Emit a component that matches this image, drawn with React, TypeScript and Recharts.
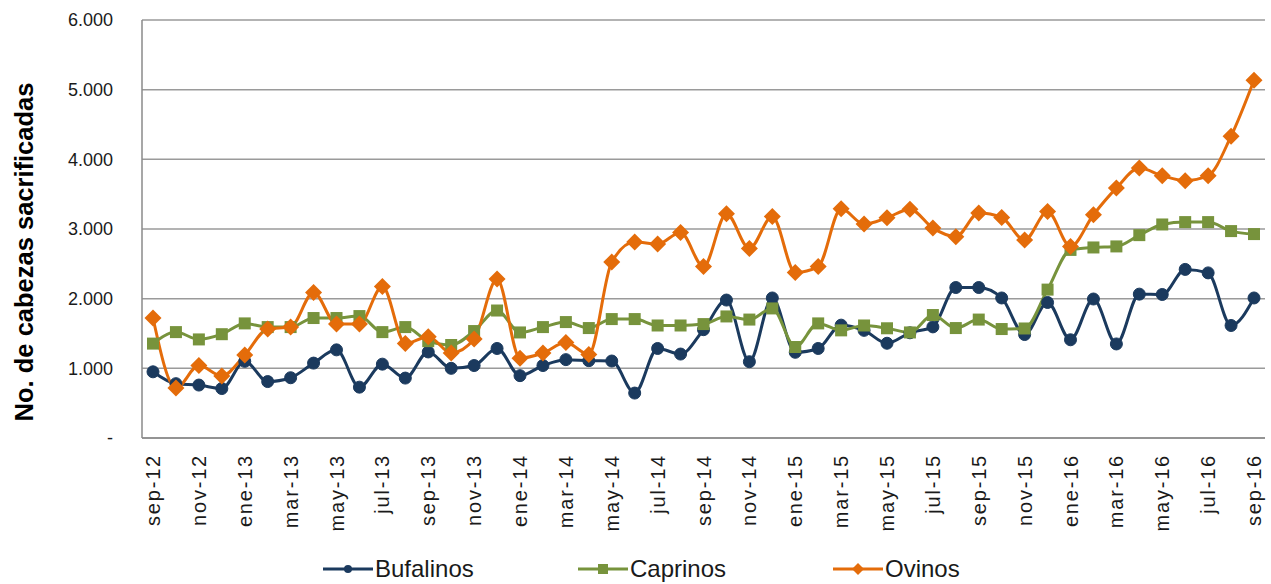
import React from "react";
import { LineChart, Line, XAxis, YAxis, CartesianGrid, Legend } from "recharts";

const months = [
  "sep-12", "oct-12", "nov-12", "dic-12", "ene-13", "feb-13", "mar-13", "abr-13", "may-13", "jun-13", "jul-13", "ago-13",
  "sep-13", "oct-13", "nov-13", "dic-13", "ene-14", "feb-14", "mar-14", "abr-14", "may-14", "jun-14", "jul-14", "ago-14",
  "sep-14", "oct-14", "nov-14", "dic-14", "ene-15", "feb-15", "mar-15", "abr-15", "may-15", "jun-15", "jul-15", "ago-15",
  "sep-15", "oct-15", "nov-15", "dic-15", "ene-16", "feb-16", "mar-16", "abr-16", "may-16", "jun-16", "jul-16", "ago-16",
  "sep-16",
];

const bufalinos = [
  950, 780, 760, 710, 1100, 810, 865, 1075, 1265, 730, 1060, 860,
  1235, 1000, 1040, 1285, 895, 1040, 1125, 1110, 1105, 645, 1285, 1205,
  1555, 1980, 1095, 2010, 1230, 1285, 1620, 1545, 1360, 1510, 1595, 2160,
  2160, 2010, 1485, 1945, 1410, 1995, 1350, 2065, 2060, 2420, 2370, 1615,
  2010,
];

const caprinos = [
  1355, 1520, 1415, 1490, 1645, 1592, 1592, 1722, 1722, 1750, 1520, 1592,
  1390, 1335, 1535, 1830, 1515, 1592, 1664, 1578, 1707, 1707, 1615, 1615,
  1635, 1745, 1700, 1860, 1306, 1645, 1545, 1615, 1575, 1515, 1765, 1578,
  1700, 1564, 1572, 2130, 2700, 2735, 2750, 2912, 3065, 3099, 3099, 2970,
  2927,
];

const ovinos = [
  1722, 717, 1040, 890, 1191, 1565, 1592, 2090, 1635, 1635, 2175, 1355,
  1455, 1220, 1420, 2281, 1145, 1220, 1370, 1200, 2525, 2812, 2783, 2950,
  2460, 3220, 2720, 3180, 2375, 2460, 3290, 3070, 3160, 3285, 3013, 2890,
  3228, 3165, 2841, 3250, 2748, 3205, 3587, 3874, 3766, 3694, 3766, 4333,
  5136,
];

const yTicks = [0, 1000, 2000, 3000, 4000, 5000, 6000];

const seriesNames = ["Bufalinos", "Caprinos", "Ovinos"];
const colors = ["#1B3A5E", "#77933C", "#E46C0A"];

const data = months.map((m, i) => ({
  month: m,
  Bufalinos: bufalinos[i],
  Caprinos: caprinos[i],
  Ovinos: ovinos[i],
}));

const fmt = (v: number) => (v === 0 ? "-" : v.toLocaleString("de-DE"));

const CircleDot = (props: any) => {
  const { cx, cy, index } = props;
  if (cx == null || cy == null) return <g key={`b${index}`} />;
  return <circle key={`b${index}`} cx={cx} cy={cy} r={6} fill={colors[0]} stroke={colors[0]} />;
};
const SquareDot = (props: any) => {
  const { cx, cy, index } = props;
  if (cx == null || cy == null) return <g key={`c${index}`} />;
  return <rect key={`c${index}`} x={cx - 6} y={cy - 6} width={12} height={12} fill={colors[1]} />;
};
const DiamondDot = (props: any) => {
  const { cx, cy, index } = props;
  if (cx == null || cy == null) return <g key={`o${index}`} />;
  const s = 8.5;
  return (
    <path
      key={`o${index}`}
      d={`M${cx},${cy - s}L${cx + s},${cy}L${cx},${cy + s}L${cx - s},${cy}Z`}
      fill={colors[2]}
    />
  );
};

const XTick = (props: any) => {
  const { x, y, payload } = props;
  return (
    <text
      x={x}
      y={y}
      dy={7}
      transform={`rotate(-90, ${x}, ${y})`}
      textAnchor="end"
      fontFamily="Liberation Sans, Arial, sans-serif"
      fontSize={20}
      letterSpacing={1.8}
      fill="#1a1a1a"
    >
      {payload.value}
    </text>
  );
};

const legendMarkers = [
  (c: string) => <circle cx={25} cy={10} r={4} fill={c} />,
  (c: string) => <rect x={20} y={5} width={10} height={10} fill={c} />,
  (c: string) => <path d="M25,4L31,10L25,16L19,10Z" fill={c} />,
];

const LegendContent = () => (
  <div style={{ display: "flex", height: 30, alignItems: "center", paddingLeft: 323, width: 1271, boxSizing: "border-box" }}>
    {seriesNames.map((n, i) => (
      <div key={n} style={{ display: "flex", alignItems: "center", width: 255 }}>
        <svg width={50} height={20} style={{ display: "block" }}>
          <line x1={0} y1={10} x2={50} y2={10} stroke={colors[i]} strokeWidth={3} />
          {legendMarkers[i](colors[i])}
        </svg>
        <span
          style={{
            fontFamily: "Liberation Sans, Arial, sans-serif",
            fontSize: 24,
            color: "#1a1a1a",
            marginLeft: 2,
            lineHeight: "30px",
          }}
        >
          {n}
        </span>
      </div>
    ))}
  </div>
);

export default function App() {
  return (
    <div style={{ position: "absolute", left: 0, top: 0, width: 1271, height: 584, background: "#fff" }}>
      <LineChart width={1271} height={584} data={data} margin={{ top: 20, right: 6, left: 0, bottom: 0 }}>
        <CartesianGrid vertical={false} stroke="#9a9a9a" strokeWidth={1.5} />
        <XAxis
          dataKey="month"
          interval={1}
          height={116}
          padding={{ left: 11, right: 11 }}
          tickLine={false}
          tickSize={0}
          tickMargin={16}
          axisLine={{ stroke: "#8a8a8a", strokeWidth: 1.5 }}
          tick={<XTick />}
        />
        <YAxis
          width={142}
          domain={[0, 6000]}
          ticks={yTicks}
          tickFormatter={fmt}
          tickLine={false}
          tickSize={0}
          tickMargin={29}
          axisLine={{ stroke: "#8a8a8a", strokeWidth: 1.5 }}
          tick={{ fontSize: 18, fill: "#1a1a1a", fontFamily: "Liberation Sans, Arial, sans-serif" }}
          label={{
            content: () => (
              <text
                x={33}
                y={252}
                transform="rotate(-90, 33, 252)"
                textAnchor="middle"
                fontFamily="Liberation Sans, Arial, sans-serif"
                fontWeight="bold"
                fontSize={25.5}
                fill="#000"
              >
                No. de cabezas sacrificadas
              </text>
            ),
          }}
        />
        <Legend verticalAlign="bottom" content={<LegendContent />} />
        <Line
          type="monotone"
          dataKey="Bufalinos"
          stroke={colors[0]}
          strokeWidth={3}
          dot={CircleDot}
          activeDot={false}
          isAnimationActive={false}
        />
        <Line
          type="monotone"
          dataKey="Caprinos"
          stroke={colors[1]}
          strokeWidth={3}
          dot={SquareDot}
          activeDot={false}
          isAnimationActive={false}
        />
        <Line
          type="monotone"
          dataKey="Ovinos"
          stroke={colors[2]}
          strokeWidth={3}
          dot={DiamondDot}
          activeDot={false}
          isAnimationActive={false}
        />
      </LineChart>
    </div>
  );
}
